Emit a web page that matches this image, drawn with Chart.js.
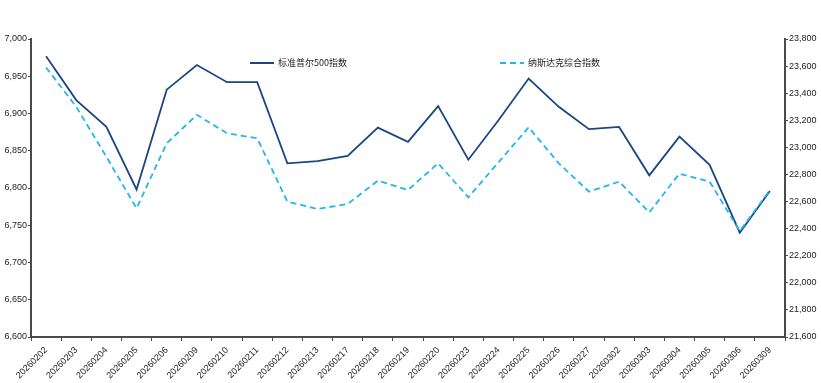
<!DOCTYPE html>
<html>
<head>
<meta charset="utf-8">
<script src="https://cdn.jsdelivr.net/npm/chart.js@4.4.0/dist/chart.umd.min.js"></script>
<style>
  html, body { margin: 0; padding: 0; background: #fff; }
  #wrap { width: 821px; height: 383px; }
</style>
</head>
<body>
<div id="wrap"><canvas id="index-chart"></canvas></div>
<script>
// trading days
const dates = ['20260202', '20260203', '20260204', '20260205', '20260206', '20260209', '20260210',
    '20260211', '20260212', '20260213', '20260217', '20260218', '20260219', '20260220', '20260223',
    '20260224', '20260225', '20260226', '20260227', '20260302', '20260303', '20260304', '20260305',
    '20260306', '20260309'];

// S&P 500 close (left axis)
const spx = [6977, 6918, 6882, 6798, 6932, 6965, 6942, 6942, 6833, 6836, 6843, 6881, 6862,
    6910, 6838, 6891, 6947, 6909, 6879, 6882, 6817, 6869, 6831, 6740, 6796];

// Nasdaq composite close (right axis)
const ixic = [23590, 23300, 22930, 22550, 23030, 23240, 23104, 23067, 22600, 22545, 22582,
    22754, 22685, 22882, 22631, 22890, 23148, 22882, 22673, 22747, 22520, 22806, 22747,
    22382, 22685];

const seriesNames = ['标准普尔500指数', '纳斯达克综合指数'];

const leftMin = 6600, leftMax = 7000, leftStep = 50;
const rightMin = 21600, rightMax = 23800, rightStep = 200;

const navy = '#1B4584';
const sky = '#22B5EE';
const axisColor = '#4a4a4a';
const textColor = '#222';
const font = { family: '"Liberation Sans", Arial, sans-serif', size: 9 };

function fmt(v) {
    return Number(v).toLocaleString('en-US');
}

// legend drawn by hand so the two items sit where the original has them
const topLegend = {
    id: 'topLegend',
    afterDraw(chart) {
        const ctx = chart.ctx;
        const spots = [250, 500];
        const y = 63;
        ctx.save();
        chart.data.datasets.forEach((ds, i) => {
            const x = spots[i];
            ctx.strokeStyle = ds.borderColor;
            ctx.lineWidth = 2;
            ctx.setLineDash(ds.borderDash || []);
            ctx.beginPath();
            ctx.moveTo(x, y);
            ctx.lineTo(x + 24, y);
            ctx.stroke();
            ctx.setLineDash([]);
            ctx.fillStyle = textColor;
            ctx.font = '9px "Noto Sans CJK SC", sans-serif';
            ctx.textBaseline = 'middle';
            ctx.fillText(ds.label, x + 28, y);
        });
        ctx.restore();
    }
};

const ctx = document.getElementById('index-chart').getContext('2d');
const chart = new Chart(ctx, {
    type: 'line',
    data: {
        labels: dates,
        datasets: [{
            label: seriesNames[0],
            data: spx,
            yAxisID: 'yLeft',
            borderColor: navy,
            borderWidth: 1.8,
            pointRadius: 0,
            tension: 0,
            order: 1,
        }, {
            label: seriesNames[1],
            data: ixic,
            yAxisID: 'yRight',
            borderColor: sky,
            borderWidth: 1.8,
            borderDash: [6, 4],
            pointRadius: 0,
            tension: 0,
            order: 0,
        }]
    },
    options: {
        responsive: true,
        maintainAspectRatio: false,
        animation: false,
        layout: { padding: { top: 39, left: 0, right: 0, bottom: 0 } },
        plugins: {
            legend: { display: false },
            tooltip: { enabled: false },
        },
        scales: {
            x: {
                offset: true,
                grid: { display: true, drawOnChartArea: false, offset: true, tickLength: 4, color: axisColor },
                border: { display: true, color: axisColor, width: 2 },
                ticks: { color: textColor, font: font, minRotation: 45, maxRotation: 45, autoSkip: false, padding: 4 },
                afterFit(scale) { scale.height = 46; },
            },
            yLeft: {
                position: 'left',
                min: leftMin,
                max: leftMax,
                grid: { display: true, drawOnChartArea: false, tickLength: 3, color: axisColor },
                border: { display: true, color: axisColor, width: 2 },
                ticks: { stepSize: leftStep, color: textColor, font: font, padding: 1, callback: fmt },
                afterFit(scale) { scale.width = 31; },
            },
            yRight: {
                position: 'right',
                min: rightMin,
                max: rightMax,
                grid: { display: true, drawOnChartArea: false, tickLength: 3, color: axisColor },
                border: { display: true, color: axisColor, width: 2 },
                ticks: { stepSize: rightStep, color: textColor, font: font, padding: 1, callback: fmt },
                afterFit(scale) { scale.width = 36; },
            },
        }
    },
    plugins: [topLegend]
});
</script>
</body>
</html>
